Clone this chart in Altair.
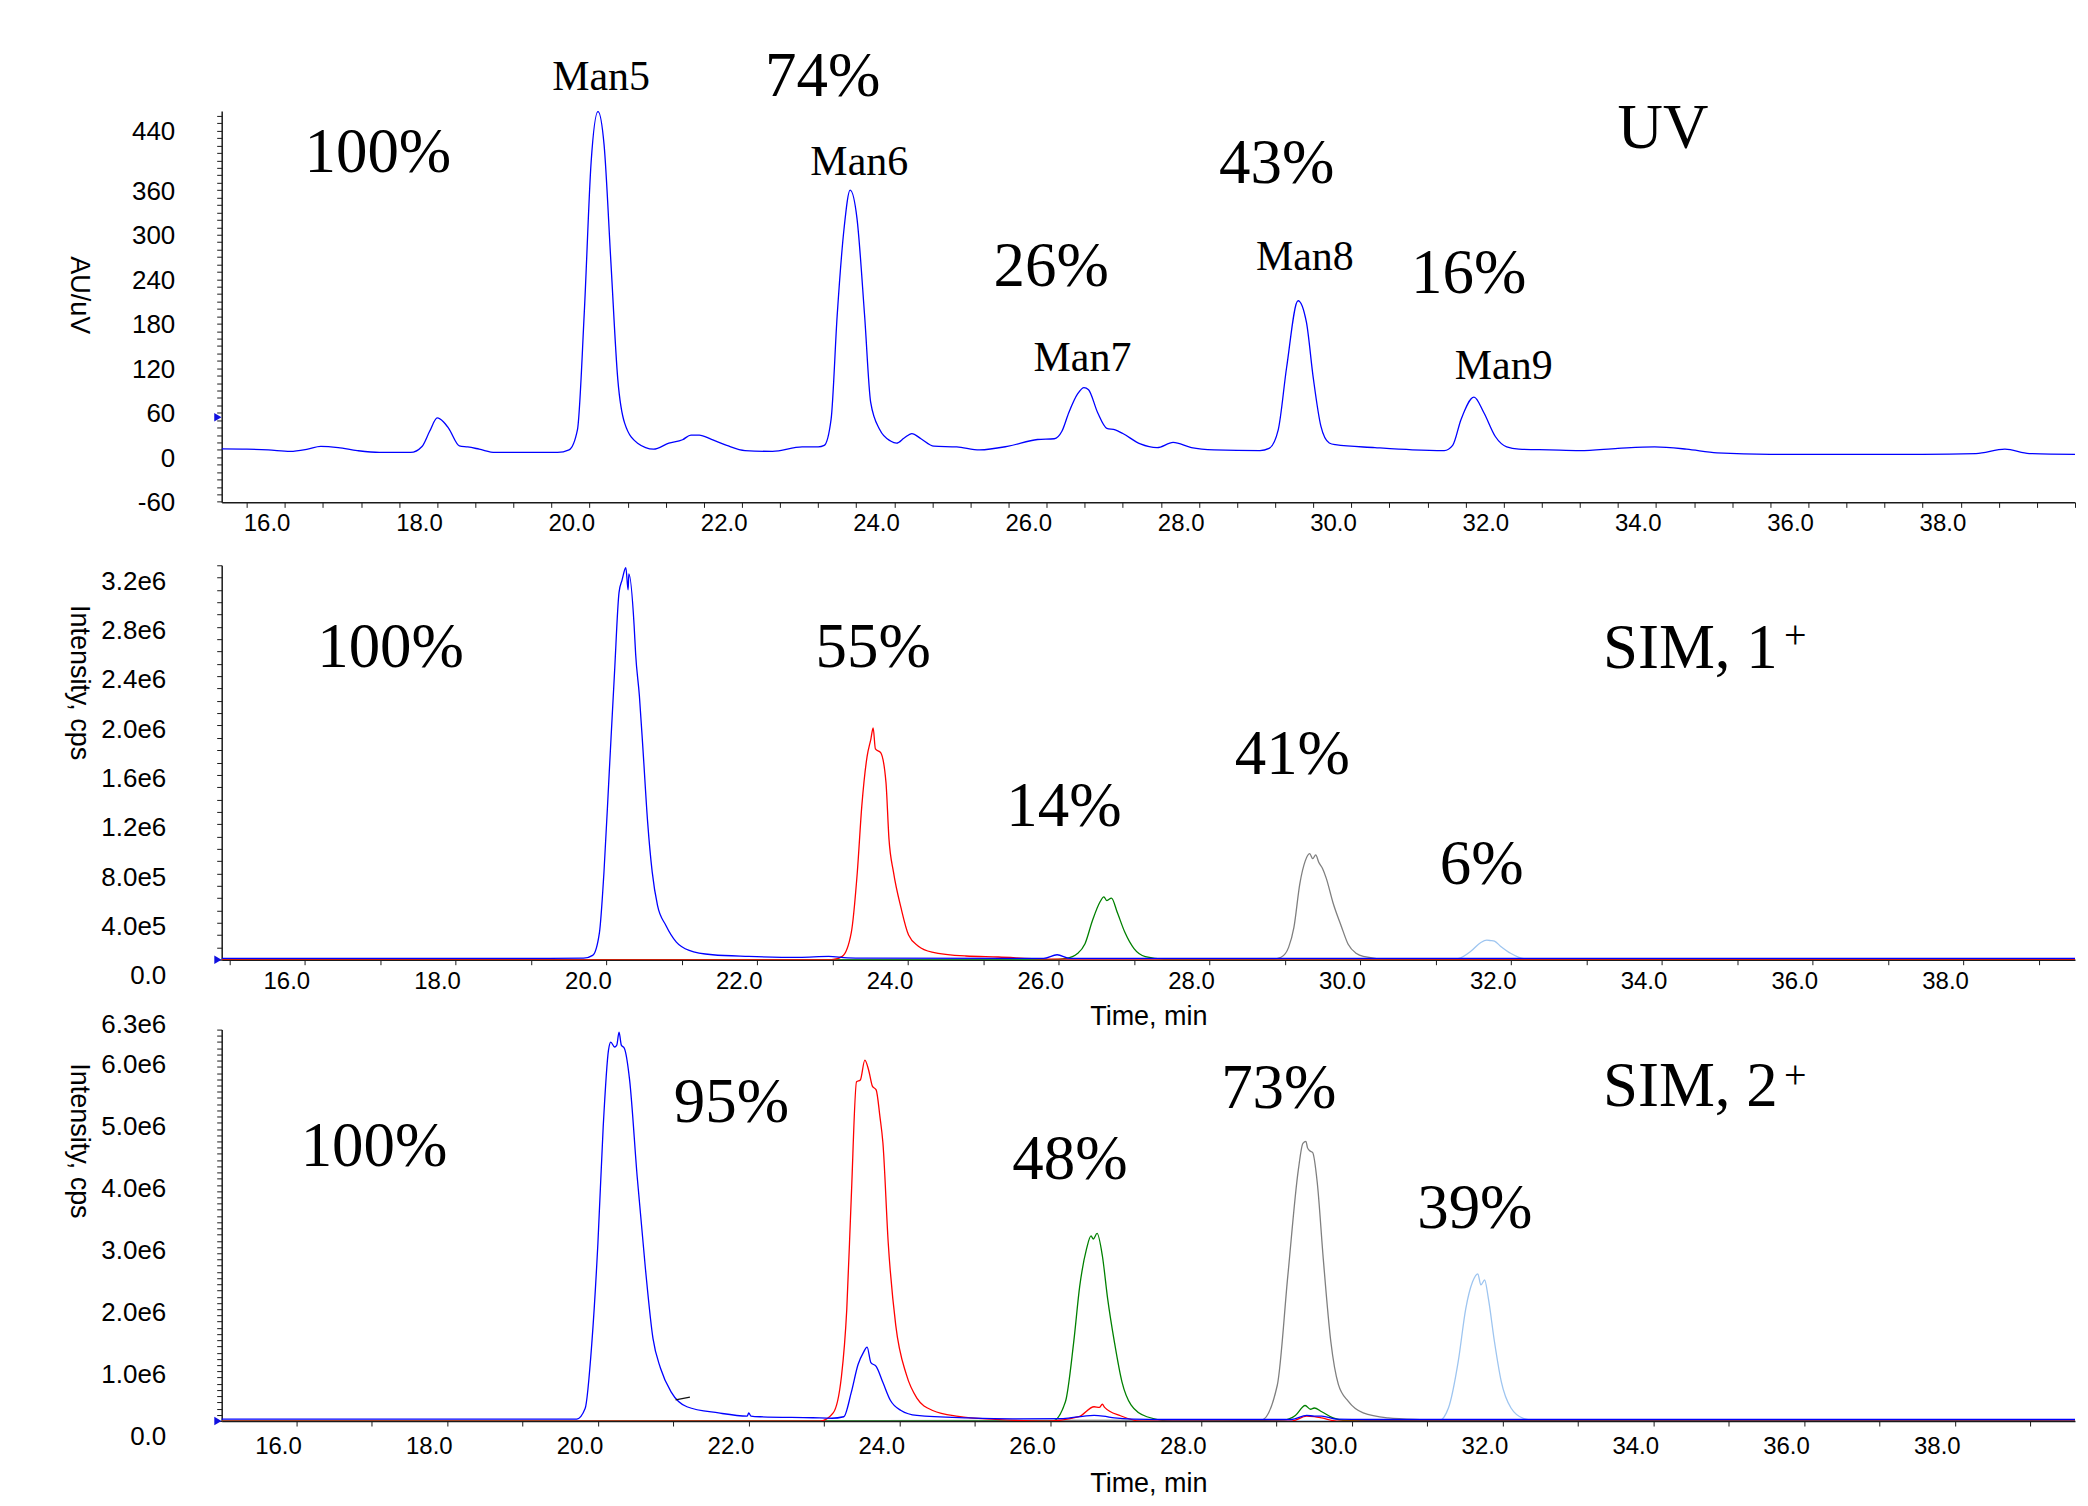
import altair as alt
import pandas as pd

# ---------------- data (time in min, value in axis units) ----------------
uv_trace = [
    (15.17, -8.6), (15.5, -9), (15.78, -10), (16.07, -12), (16.3, -9), (16.47, -5.4), (16.7, -7),
    (16.95, -11), (17.24, -13.5), (17.65, -13.5), (17.8, -5.4), (17.9, 15), (18.0, 33), (18.08, 28),
    (18.15, 19), (18.29, -4.5), (18.4, -6), (18.55, -9), (18.76, -13.5), (19.2, -13.5), (19.58, -13.5),
    (19.73, -10), (19.84, 17), (19.93, 175), (20.02, 378), (20.11, 446), (20.19, 401), (20.28, 242),
    (20.37, 85), (20.46, 26), (20.63, -1), (20.84, -9), (21.04, -1), (21.22, 3.6), (21.33, 10),
    (21.44, 10), (21.6, 4), (21.8, -4), (22.04, -11), (22.4, -12), (22.79, -6), (23.0, -6), (23.08, -4),
    (23.17, 31), (23.25, 171), (23.34, 288), (23.42, 340), (23.51, 302), (23.61, 171), (23.69, 54),
    (23.81, 17), (23.95, 2), (24.03, -1), (24.13, 6), (24.23, 12), (24.35, 5), (24.52, -5), (24.82, -6),
    (25.12, -10), (25.5, -5), (25.88, 4), (26.1, 5), (26.2, 15), (26.29, 40), (26.41, 66), (26.49, 74),
    (26.55, 71), (26.67, 40), (26.79, 19), (26.9, 17), (27.0, 12), (27.23, -2), (27.45, -7), (27.66, 0),
    (27.9, -7), (28.2, -10), (28.8, -11), (28.92, -8), (29.04, 17), (29.15, 101), (29.3, 191),
    (29.41, 162), (29.5, 87), (29.6, 22), (29.71, -0.7), (29.79, -3), (30.31, -7), (30.8, -10),
    (31.22, -11), (31.33, -4), (31.44, 31), (31.61, 61), (31.74, 40), (31.89, 8), (32.04, -6),
    (32.2, -9), (32.6, -10), (33.0, -11), (33.5, -8), (33.98, -6), (34.4, -9), (34.8, -14), (35.5, -16),
    (36.5, -16), (37.5, -16), (38.2, -15), (38.58, -9), (38.9, -15), (39.5, -16),
]

sim1_man5 = [
    (14.9, 1e4), (19.0, 1e4), (19.7, 1.2e4), (19.82, 3.5e4), (19.91, 2.2e5), (19.97, 7.1e5),
    (20.04, 1.52e6), (20.11, 2.33e6), (20.17, 2.98e6), (20.21, 3.08e6), (20.26, 3.18e6), (20.29, 3.0e6),
    (20.30, 3.13e6), (20.37, 2.71e6), (20.39, 2.48e6), (20.44, 2.14e6), (20.49, 1.68e6), (20.55, 1.11e6),
    (20.61, 7.1e5), (20.68, 4.4e5), (20.79, 2.8e5), (20.93, 1.43e5), (21.10, 7.6e4), (21.41, 4.0e4),
    (21.89, 2.7e4), (22.56, 1.9e4), (22.95, 2.7e4), (23.2, 1.5e4), (23.44, 1.3e4), (25.8, 1e4),
    (25.98, 4e4), (26.15, 1e4), (29.0, 1e4), (39.48, 1e4),
]
sim1_man6 = [
    (14.9, 0), (22.99, 0), (23.13, 2.7e4), (23.25, 2.2e5), (23.33, 7.1e5), (23.39, 1.25e6),
    (23.46, 1.65e6), (23.51, 1.79e6), (23.54, 1.88e6), (23.57, 1.71e6), (23.64, 1.68e6), (23.71, 1.44e6),
    (23.75, 9.8e5), (23.81, 7.1e5), (23.91, 4.2e5), (24.01, 2.0e5), (24.14, 1.1e5), (24.32, 6.2e4),
    (24.77, 3.0e4), (25.2, 2.2e4), (25.8, 5e3), (39.48, 0),
]
sim1_man7 = [
    (14.9, 0), (25.9, 0), (26.1, 1e4), (26.25, 5e4), (26.35, 1.3e5), (26.45, 3.2e5), (26.55, 4.7e5),
    (26.6, 5.1e5), (26.64, 4.8e5), (26.7, 5.0e5), (26.78, 3.8e5), (26.88, 2.2e5), (27.0, 9e4),
    (27.15, 2.5e4), (27.4, 5e3), (39.48, 0),
]
sim1_man8 = [
    (14.9, 0), (28.8, 0), (28.95, 2e4), (29.05, 1e5), (29.12, 2.6e5), (29.2, 6.2e5), (29.27, 8.0e5),
    (29.33, 8.6e5), (29.37, 8.2e5), (29.41, 8.5e5), (29.45, 7.9e5), (29.5, 7.4e5), (29.55, 6.6e5),
    (29.64, 4.6e5), (29.75, 2.7e5), (29.84, 1.25e5), (29.95, 5e4), (30.04, 2.7e4), (30.37, 4e3),
    (39.48, 0),
]
sim1_man9 = [
    (14.9, 0), (31.2, 0), (31.31, 1e4), (31.47, 7e4), (31.6, 1.4e5), (31.68, 1.58e5), (31.73, 1.55e5),
    (31.78, 1.5e5), (31.86, 1.1e5), (32.0, 5e4), (32.17, 8e3), (32.4, 0), (39.48, 0),
]

sim2_man5 = [
    (15.0, 3e4), (19.5, 3e4), (19.72, 3.2e4), (19.83, 2.0e5), (19.92, 1.27e6), (20.0, 2.87e6),
    (20.07, 4.74e6), (20.14, 5.97e6), (20.17, 6.1e6), (20.22, 6.02e6), (20.25, 6.05e6), (20.28, 6.26e6),
    (20.31, 6.05e6), (20.35, 6.0e6), (20.42, 5.49e6), (20.52, 3.94e6), (20.63, 2.45e6), (20.73, 1.33e6),
    (20.83, 8.5e5), (20.97, 4.7e5), (21.18, 2.3e5), (21.6, 1.3e5), (21.98, 8e4), (22.0, 1.3e5),
    (22.03, 8e4), (22.15, 6.9e4), (22.85, 5.3e4), (23.1, 4.5e4), (23.26, 6.9e4), (23.36, 4.6e5),
    (23.45, 9.1e5), (23.52, 1.1e6), (23.57, 1.19e6), (23.62, 9.4e5), (23.69, 8.8e5), (23.78, 6.2e5),
    (23.88, 3.3e5), (24.02, 1.7e5), (24.23, 9e4), (24.92, 5e4), (25.5, 3.5e4), (26.17, 4e4),
    (26.45, 8e4), (26.58, 9e4), (26.7, 8e4), (26.85, 5e4), (27.1, 3e4), (27.5, 2.5e4), (29.2, 2.5e4),
    (29.4, 9e4), (29.5, 8e4), (29.6, 8e4), (29.8, 3e4), (30.2, 2.5e4), (39.59, 2.5e4),
]
sim2_man6 = [
    (15.0, 0), (22.95, 0), (23.12, 1.3e5), (23.23, 7.2e5), (23.3, 1.79e6), (23.36, 3.6e6),
    (23.43, 5.46e6), (23.48, 5.49e6), (23.54, 5.81e6), (23.59, 5.65e6), (23.64, 5.39e6), (23.69, 5.33e6),
    (23.74, 4.9e6), (23.78, 4.47e6), (23.85, 2.87e6), (23.95, 1.54e6), (24.09, 7.5e5), (24.23, 3.7e5),
    (24.44, 1.7e5), (24.78, 7.5e4), (25.27, 2.7e4), (25.96, 0), (26.38, 6.9e4), (26.58, 2.3e5),
    (26.65, 2.2e5), (26.69, 2.7e5), (26.72, 2.2e5), (26.93, 8.5e4), (27.2, 0), (29.2, 0), (29.4, 8e4),
    (29.5, 7e4), (29.6, 5e4), (29.8, 0), (39.59, 0),
]
sim2_man7 = [
    (15.0, 0), (26.03, 0), (26.2, 3.1e5), (26.31, 1.27e6), (26.39, 2.17e6), (26.48, 2.77e6),
    (26.54, 2.98e6), (26.57, 2.93e6), (26.62, 3.02e6), (26.69, 2.66e6), (26.76, 1.97e6), (26.85, 1.27e6),
    (26.95, 6.3e5), (27.07, 2.6e5), (27.28, 6.9e4), (27.62, 0), (29.1, 2e4), (29.25, 9e4), (29.38, 2.5e5),
    (29.45, 1.9e5), (29.5, 2.1e5), (29.6, 1.5e5), (29.75, 5e4), (29.9, 1e4), (39.59, 0),
]
sim2_man8 = [
    (15.0, 0), (28.8, 1.6e4), (29.01, 5.76e5), (29.15, 2.34e6), (29.29, 4.05e6), (29.35, 4.47e6),
    (29.39, 4.5e6), (29.41, 4.4e6), (29.44, 4.35e6), (29.48, 4.32e6), (29.54, 3.84e6), (29.62, 2.61e6),
    (29.72, 1.28e6), (29.82, 5.9e5), (29.95, 3.2e5), (30.15, 1.3e5), (30.48, 5e4), (30.95, 2e4),
    (31.5, 0), (39.59, 0),
]
sim2_man9 = [
    (15.0, 0), (31.15, 0), (31.28, 2.1e5), (31.41, 9.6e5), (31.51, 1.81e6), (31.6, 2.24e6),
    (31.67, 2.37e6), (31.71, 2.19e6), (31.76, 2.27e6), (31.81, 1.97e6), (31.89, 1.28e6), (31.98, 6.4e5),
    (32.11, 2.1e5), (32.28, 4e4), (32.48, 0), (39.59, 0),
]
sim2_dash = [(21.03, 3.4e5), (21.22, 3.84e5)]

# annotations: (text, time, value)
uv_pct = [("100%", 17.22, 390), ("74%", 23.06, 493), ("26%", 26.06, 237), ("43%", 29.02, 375), ("16%", 31.54, 227)]
uv_names = [("Man5", 20.15, 493), ("Man6", 23.54, 378), ("Man7", 26.47, 114), ("Man8", 29.39, 250), ("Man9", 32.0, 103)]
uv_tag = [("UV", 34.09, 423)]
sim1_pct = [("100%", 17.14, 2.53e6), ("55%", 23.54, 2.53e6), ("14%", 26.07, 1.24e6), ("41%", 29.10, 1.66e6), ("6%", 31.61, 7.7e5)]
sim1_tag = [("SIM, 1", 33.22, 2.52e6)]
sim1_sup = [("+", 35.62, 2.63e6)]
sim2_pct = [("100%", 17.03, 4.41e6), ("95%", 21.77, 5.12e6), ("48%", 26.26, 4.2e6), ("73%", 29.03, 5.34e6), ("39%", 31.63, 3.41e6)]
sim2_tag = [("SIM, 2", 33.33, 5.37e6)]
sim2_sup = [("+", 35.73, 5.56e6)]
markers_uv = [(15.12, 34)]
markers_sim1 = [(14.85, 0)]
markers_sim2 = [(14.96, 0)]

# axis ticks
uv_x_ticks = [15.5 + 0.5 * i for i in range(49)]
sim_x_ticks = list(range(15, 40))
uv_y_ticks = list(range(-80, 441, 10))
uv_y_labels = [-60, 0, 60, 120, 180, 240, 300, 360, 440]
sim1_y_ticks = [i * 100000 for i in range(33)]
sim2_y_ticks = [i * 100000 for i in range(64)]

SANS = "Liberation Sans"
SERIF = "Liberation Serif"
W = 1856
BLUE, RED, GREEN, GRAY, LIGHT = "#0000ff", "#ff0000", "#008000", "#7f7f7f", "#9ec5f0"


def x_axis(ticks, title, pad, title_pad):
    kw = dict(
        values=ticks,
        labelExpr="datum.value % 2 === 0 ? format(datum.value, '.1f') : ''",
        labelAlign="right", labelOffset=5, labelPadding=pad, labelBaseline="top",
        labelFontSize=24, labelFont=SANS, labelOverlap=False, labelFlush=False,
        tickSize=5, grid=False,
    )
    if title:
        kw.update(title=title, titleFontSize=27, titleFont=SANS, titleFontWeight="normal",
                  titlePadding=title_pad)
    else:
        kw.update(title=None)
    return alt.Axis(**kw)


def y_axis(ticks, label_expr, title, title_y, pad, baseline="top"):
    return alt.Axis(
        values=ticks, labelExpr=label_expr, labelBaseline=baseline, labelOffset=3,
        labelPadding=pad, labelFontSize=26, labelFont=SANS, labelOverlap=False, labelFlush=False,
        tickSize=5, grid=False, title=title, titleFontSize=27, titleFont=SANS,
        titleFontWeight="normal", titleAngle=90, titleX=-143, titleY=title_y,
        titleAlign="center", titleBaseline="middle",
    )


def panel(traces, texts, markers, x_dom, y_dom, height, xa, ya):
    X = alt.X("t:Q", scale=alt.Scale(domain=x_dom, nice=False, zero=False), axis=xa)
    Y = alt.Y("v:Q", scale=alt.Scale(domain=y_dom, nice=False, zero=False), axis=ya)
    layers = []
    for pts, color in traces:
        df = pd.DataFrame(pts, columns=["t", "v"])
        layers.append(
            alt.Chart(df).mark_line(color=color, strokeWidth=1.3, interpolate="monotone", clip=True)
            .encode(x=X, y=Y)
        )
    for items, size, align in texts:
        df = pd.DataFrame(items, columns=["label", "t", "v"])
        layers.append(
            alt.Chart(df).mark_text(font=SERIF, fontSize=size, align=align, baseline="middle", color="black")
            .encode(x=X, y=Y, text=alt.Text("label:N"))
        )
    df = pd.DataFrame(markers, columns=["t", "v"])
    layers.append(
        alt.Chart(df).mark_point(shape="triangle-right", filled=True, size=70, color="#1010e0", opacity=1)
        .encode(x=X, y=Y)
    )
    return alt.layer(*layers).properties(width=W, height=height)


uv = panel(
    [(uv_trace, BLUE)],
    [(uv_pct, 63, "center"), (uv_names, 42, "center"), (uv_tag, 63, "center")],
    markers_uv,
    [15.17, 39.50], [-80.75, 446.8], 392,
    x_axis(uv_x_ticks, None, 4, 0),
    y_axis(uv_y_ticks,
           "indexof(" + str(uv_y_labels) + ", datum.value) >= 0 ? datum.value : ''",
           "AU/uV", 184, 42),
)

sim1 = panel(
    [(sim1_man9, LIGHT), (sim1_man8, GRAY), (sim1_man7, GREEN), (sim1_man6, RED), (sim1_man5, BLUE)],
    [(sim1_pct, 63, "center"), (sim1_tag, 63, "left"), (sim1_sup, 40, "left")],
    markers_sim1,
    [14.90, 39.48], [0, 3.2e6], 395,
    x_axis(sim_x_ticks, "Time, min", 5, 10),
    y_axis(sim1_y_ticks,
           "datum.value % 400000 === 0 ? (datum.value === 0 ? '0.0' : replace(format(datum.value, '.1e'), '+', '')) : ''",
           "Intensity, cps", 117, 51),
)

sim2 = panel(
    [(sim2_man9, LIGHT), (sim2_man8, GRAY), (sim2_man7, GREEN), (sim2_man6, RED), (sim2_man5, BLUE),
     (sim2_dash, "#111111")],
    [(sim2_pct, 63, "center"), (sim2_tag, 63, "left"), (sim2_sup, 40, "left")],
    markers_sim2,
    [15.01, 39.59], [0, 6.3e6], 392,
    x_axis(sim_x_ticks, "Time, min", 9, 12),
    y_axis(sim2_y_ticks,
           "datum.value % 1000000 === 0 || datum.value === 6300000 ? (datum.value === 0 ? '0.0' : replace(format(datum.value, '.1e'), '+', '')) : ''",
           "Intensity, cps", 111, 51,
           baseline={"condition": {"test": "datum.value === 6300000", "value": "alphabetic"}, "value": "top"}),
)

lower = alt.vconcat(sim1, sim2, spacing=70, bounds="flush")

chart = (
    alt.vconcat(uv, lower, spacing=63, bounds="flush")
    .properties(padding={"left": 58, "top": 36, "right": 0, "bottom": 0})
    .configure_view(stroke=None)
    .configure_axis(domainColor="#1a1a1a", tickColor="#1a1a1a", labelColor="black",
                    titleColor="black", domainWidth=1.5, tickWidth=1)
)

chart.save("out.html", embed_options={"renderer": "svg", "actions": False})
